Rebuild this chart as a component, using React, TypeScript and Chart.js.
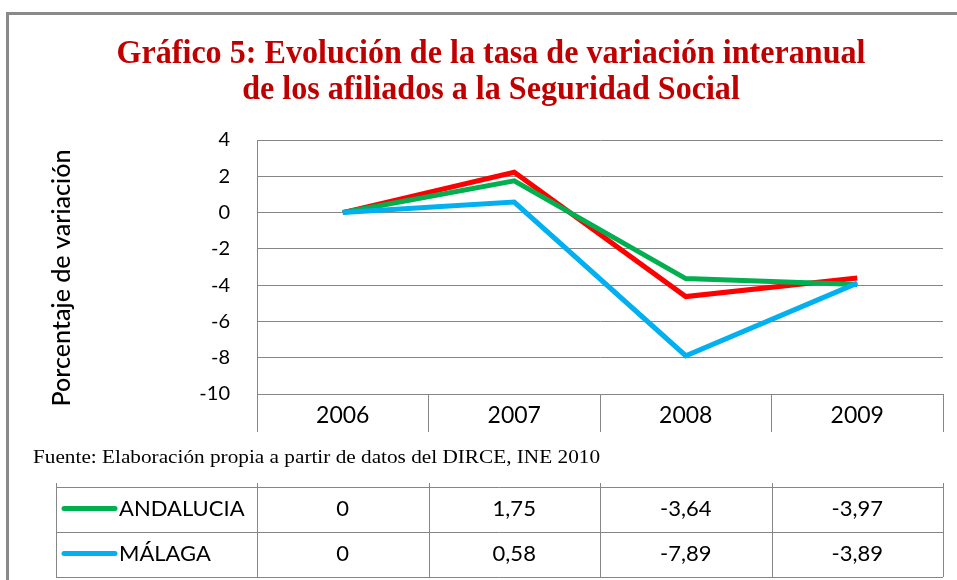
import React, { useEffect, useRef } from "react";
import { Chart, registerables } from "chart.js";

Chart.register(...registerables);

// ---- data ----
const years = ["2006", "2007", "2008", "2009"];
const andalucia = [0, 1.75, -3.64, -3.97];
const malaga = [0, 0.58, -7.89, -3.89];
const espana = [0, 2.22, -4.63, -3.61];
const seriesNames = ["ANDALUCIA", "MÁLAGA", "ESPAÑA"];
const yMin = -10;
const yMax = 4;
const yStep = 2;
const titleLines = [
  "Gráfico 5: Evolución de la tasa de variación interanual",
  "de los afiliados a la Seguridad Social",
];
const yTitle = "Porcentaje de variación";
const sourceText = "Fuente: Elaboración propia a partir de datos del DIRCE, INE 2010";

// ---- styles ----
const GREEN = "#00B050";
const BLUE = "#00B0F0";
const RED = "#FF0000";
const GRID = "#868686";
const SANS = 'Lato, "Open Sans", sans-serif';
const SERIF = '"Liberation Serif", "DejaVu Serif", serif';

const fmt = (v: number) => String(v).replace(".", ",");

export default function App() {
  const ref = useRef<HTMLCanvasElement>(null);

  useEffect(() => {
    document.body.style.margin = "0";
    const canvas = ref.current!;

    const decor = {
      id: "decor",
      beforeDraw(chart: any) {
        const c = chart.ctx;
        c.save();
        c.fillStyle = "#fff";
        c.fillRect(0, 0, chart.width, chart.height);
        c.restore();
      },
      afterDraw(chart: any) {
        const c = chart.ctx;
        c.save();
        // outer frame
        c.strokeStyle = "#8a8a8a";
        c.lineWidth = 3;
        c.beginPath();
        c.moveTo(7.5, 580);
        c.lineTo(7.5, 13.5);
        c.lineTo(957, 13.5);
        c.stroke();

        // title
        c.fillStyle = "#C00000";
        c.font = `bold 33px ${SERIF}`;
        c.textAlign = "center";
        c.textBaseline = "alphabetic";
        const sx = 749 / c.measureText(titleLines[0]).width;
        const baselines = [63, 99];
        titleLines.forEach((t, i) => {
          c.save();
          c.translate(491, baselines[i]);
          c.scale(sx, 1);
          c.fillText(t, 0, 0);
          c.restore();
        });

        // y axis title
        c.fillStyle = "#000";
        c.font = `500 21px ${SANS}`;
        const w = c.measureText(yTitle).width;
        const fs = 21 * (257 / w);
        c.font = `500 ${fs}px ${SANS}`;
        c.save();
        c.translate(62, 278);
        c.rotate(-Math.PI / 2);
        c.textAlign = "center";
        c.textBaseline = "middle";
        c.fillText(yTitle, 0, 0);
        c.restore();

        // source
        c.font = `19px ${SERIF}`;
        c.textAlign = "left";
        c.textBaseline = "alphabetic";
        const sw = c.measureText(sourceText).width;
        c.save();
        c.translate(33, 463);
        c.scale(567 / sw, 1);
        c.fillText(sourceText, 0, 0);
        c.restore();

        // data table
        const x = chart.scales.x;
        const half = (x.getPixelForValue(1) - x.getPixelForValue(0)) / 2;
        const bounds = [56, ...years.map((_, i) => x.getPixelForValue(i) - half), x.getPixelForValue(years.length - 1) + half];
        const rowTops = [487, 532, 577];
        c.strokeStyle = GRID;
        c.lineWidth = 1;
        c.beginPath();
        bounds.forEach((bx) => {
          const px = Math.round(bx) + 0.5;
          c.moveTo(px, 483);
          c.lineTo(px, 577);
        });
        rowTops.forEach((ry) => {
          c.moveTo(bounds[0], ry + 0.5);
          c.lineTo(bounds[bounds.length - 1], ry + 0.5);
        });
        c.stroke();

        const rows = [
          { name: seriesNames[0], values: andalucia, color: GREEN },
          { name: seriesNames[1], values: malaga, color: BLUE },
        ];
        rows.forEach((r, i) => {
          const cy = (rowTops[i] + rowTops[i + 1]) / 2 - 1;
          c.strokeStyle = r.color;
          c.lineWidth = 5;
          c.lineCap = "round";
          c.beginPath();
          c.moveTo(64, cy);
          c.lineTo(115, cy);
          c.stroke();
          c.fillStyle = "#000";
          c.font = `22px ${SANS}`;
          c.textBaseline = "middle";
          c.textAlign = "left";
          c.fillText(r.name, 119, cy);
          c.textAlign = "center";
          r.values.forEach((v, j) => {
            c.fillText(fmt(v), x.getPixelForValue(j), cy);
          });
        });
        c.restore();
      },
    };

    const chart = new Chart(canvas, {
      type: "line",
      data: {
        labels: years,
        datasets: [
          { label: seriesNames[1], data: malaga, borderColor: BLUE, backgroundColor: BLUE },
          { label: seriesNames[0], data: andalucia, borderColor: GREEN, backgroundColor: GREEN },
          { label: seriesNames[2], data: espana, borderColor: RED, backgroundColor: RED },
        ].map((d) => ({ ...d, borderWidth: 5, pointRadius: 0, tension: 0, fill: false })),
      },
      options: {
        responsive: false,
        animation: false,
        layout: { padding: { left: 0, top: 140, right: 14, bottom: 148 } },
        plugins: {
          legend: { display: false },
          tooltip: { enabled: false },
          title: { display: false },
        },
        scales: {
          x: {
            type: "category",
            offset: true,
            grid: {
              offset: true,
              drawOnChartArea: false,
              drawTicks: true,
              tickLength: 38,
              color: GRID,
              lineWidth: 1,
            },
            border: { display: true, color: GRID, width: 1 },
            ticks: {
              color: "#000",
              font: { family: SANS, size: 23 },
              padding: -30,
              maxRotation: 0,
            },
            afterFit: (s: any) => {
              s.height = 38;
            },
          },
          y: {
            min: yMin,
            max: yMax,
            ticks: {
              stepSize: yStep,
              color: "#000",
              font: { family: SANS, size: 20 },
              padding: 27,
            },
            grid: { color: GRID, lineWidth: 1, drawTicks: false },
            border: { display: true, color: GRID, width: 1 },
            afterFit: (s: any) => {
              s.width = 257;
            },
          },
        },
      },
      plugins: [decor],
    });

    return () => chart.destroy();
  }, []);

  return (
    <canvas
      ref={ref}
      width={957}
      height={580}
      style={{ display: "block", width: 957, height: 580 }}
    />
  );
}
